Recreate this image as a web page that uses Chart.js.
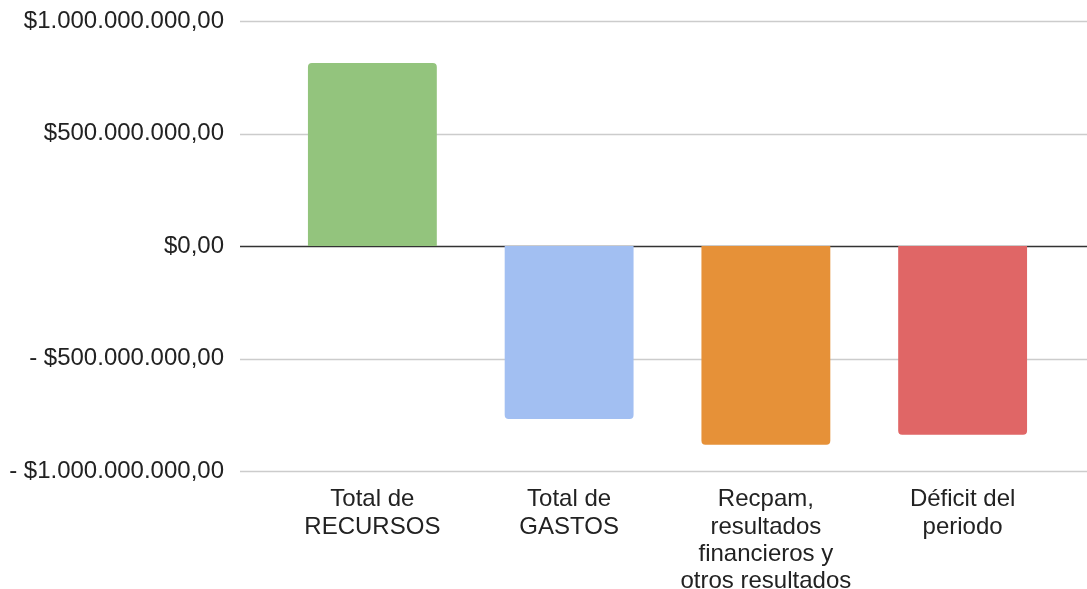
<!DOCTYPE html>
<html>
<head>
<meta charset="utf-8">
<script src="https://cdn.jsdelivr.net/npm/chart.js@4.4.0/dist/chart.umd.min.js"></script>
<style>
  html, body { margin: 0; padding: 0; background: #fff; }
  #wrap { width: 1087px; height: 589px; }
</style>
</head>
<body>
<div id="wrap"><canvas id="resultChart"></canvas></div>
<script>
// Categories (multi-line labels as in the original)
const categories = [
    ['Total de', 'RECURSOS'],
    ['Total de', 'GASTOS'],
    ['Recpam,', 'resultados', 'financieros y', 'otros resultados'],
    ['Déficit del', 'periodo']
];

// Values
const values = [813000000, -769000000, -883000000, -839000000];

const barColors = ['#93c47d', '#a2bff2', '#e69138', '#e06666'];

// Tick values and their labels
const tickValues = [1000000000, 500000000, 0, -500000000, -1000000000];
const tickLabels = ['$1.000.000.000,00', '$500.000.000,00', '$0,00', '- $500.000.000,00', '- $1.000.000.000,00'];

const fontFamily = "'Liberation Sans', Arial, sans-serif";

// Gridlines span the whole width, like the original
const fullGrid = {
    id: 'fullGrid',
    beforeDatasetsDraw(chart) {
        const y = chart.scales.y;
        const ctx = chart.ctx;
        ctx.save();
        y.ticks.forEach(function(t) {
            const py = Math.round(y.getPixelForValue(t.value)) + 0.5;
            ctx.beginPath();
            ctx.strokeStyle = t.value === 0 ? '#333333' : '#cccccc';
            ctx.lineWidth = 1.5;
            ctx.moveTo(240, py);
            ctx.lineTo(chart.width, py);
            ctx.stroke();
        });
        ctx.restore();
    }
};

const ctx = document.getElementById('resultChart').getContext('2d');
new Chart(ctx, {
    type: 'bar',
    data: {
        labels: categories,
        datasets: [{
            data: values,
            backgroundColor: barColors,
            borderRadius: 4,
            barPercentage: 0.655,
            categoryPercentage: 1
        }]
    },
    options: {
        responsive: true,
        maintainAspectRatio: false,
        animation: false,
        layout: { padding: { top: 21, right: 26, bottom: 0, left: 0 } },
        plugins: {
            legend: { display: false },
            tooltip: { enabled: false }
        },
        scales: {
            x: {
                grid: { display: false, drawTicks: false },
                border: { display: false },
                afterFit: function(scale) { scale.height = 118; },
                ticks: {
                    color: '#222222',
                    font: { family: fontFamily, size: 24, lineHeight: 1.14 },
                    maxRotation: 0,
                    autoSkip: false,
                    padding: 15
                }
            },
            y: {
                min: -1000000000,
                max: 1000000000,
                // grid hidden (drawn by plugin); tickLength only spaces the labels
                grid: { display: false, drawTicks: true, tickLength: 50 },
                border: { display: false },
                afterFit: function(scale) { scale.width = 274; },
                afterBuildTicks: function(scale) {
                    scale.ticks = tickValues.map(v => ({ value: v }));
                },
                ticks: {
                    color: '#222222',
                    font: { family: fontFamily, size: 24 },
                    padding: 0,
                    callback: function(value) {
                        const i = tickValues.indexOf(value);
                        return i >= 0 ? tickLabels[i] : '';
                    }
                }
            }
        }
    },
    plugins: [fullGrid]
});
</script>
</body>
</html>
